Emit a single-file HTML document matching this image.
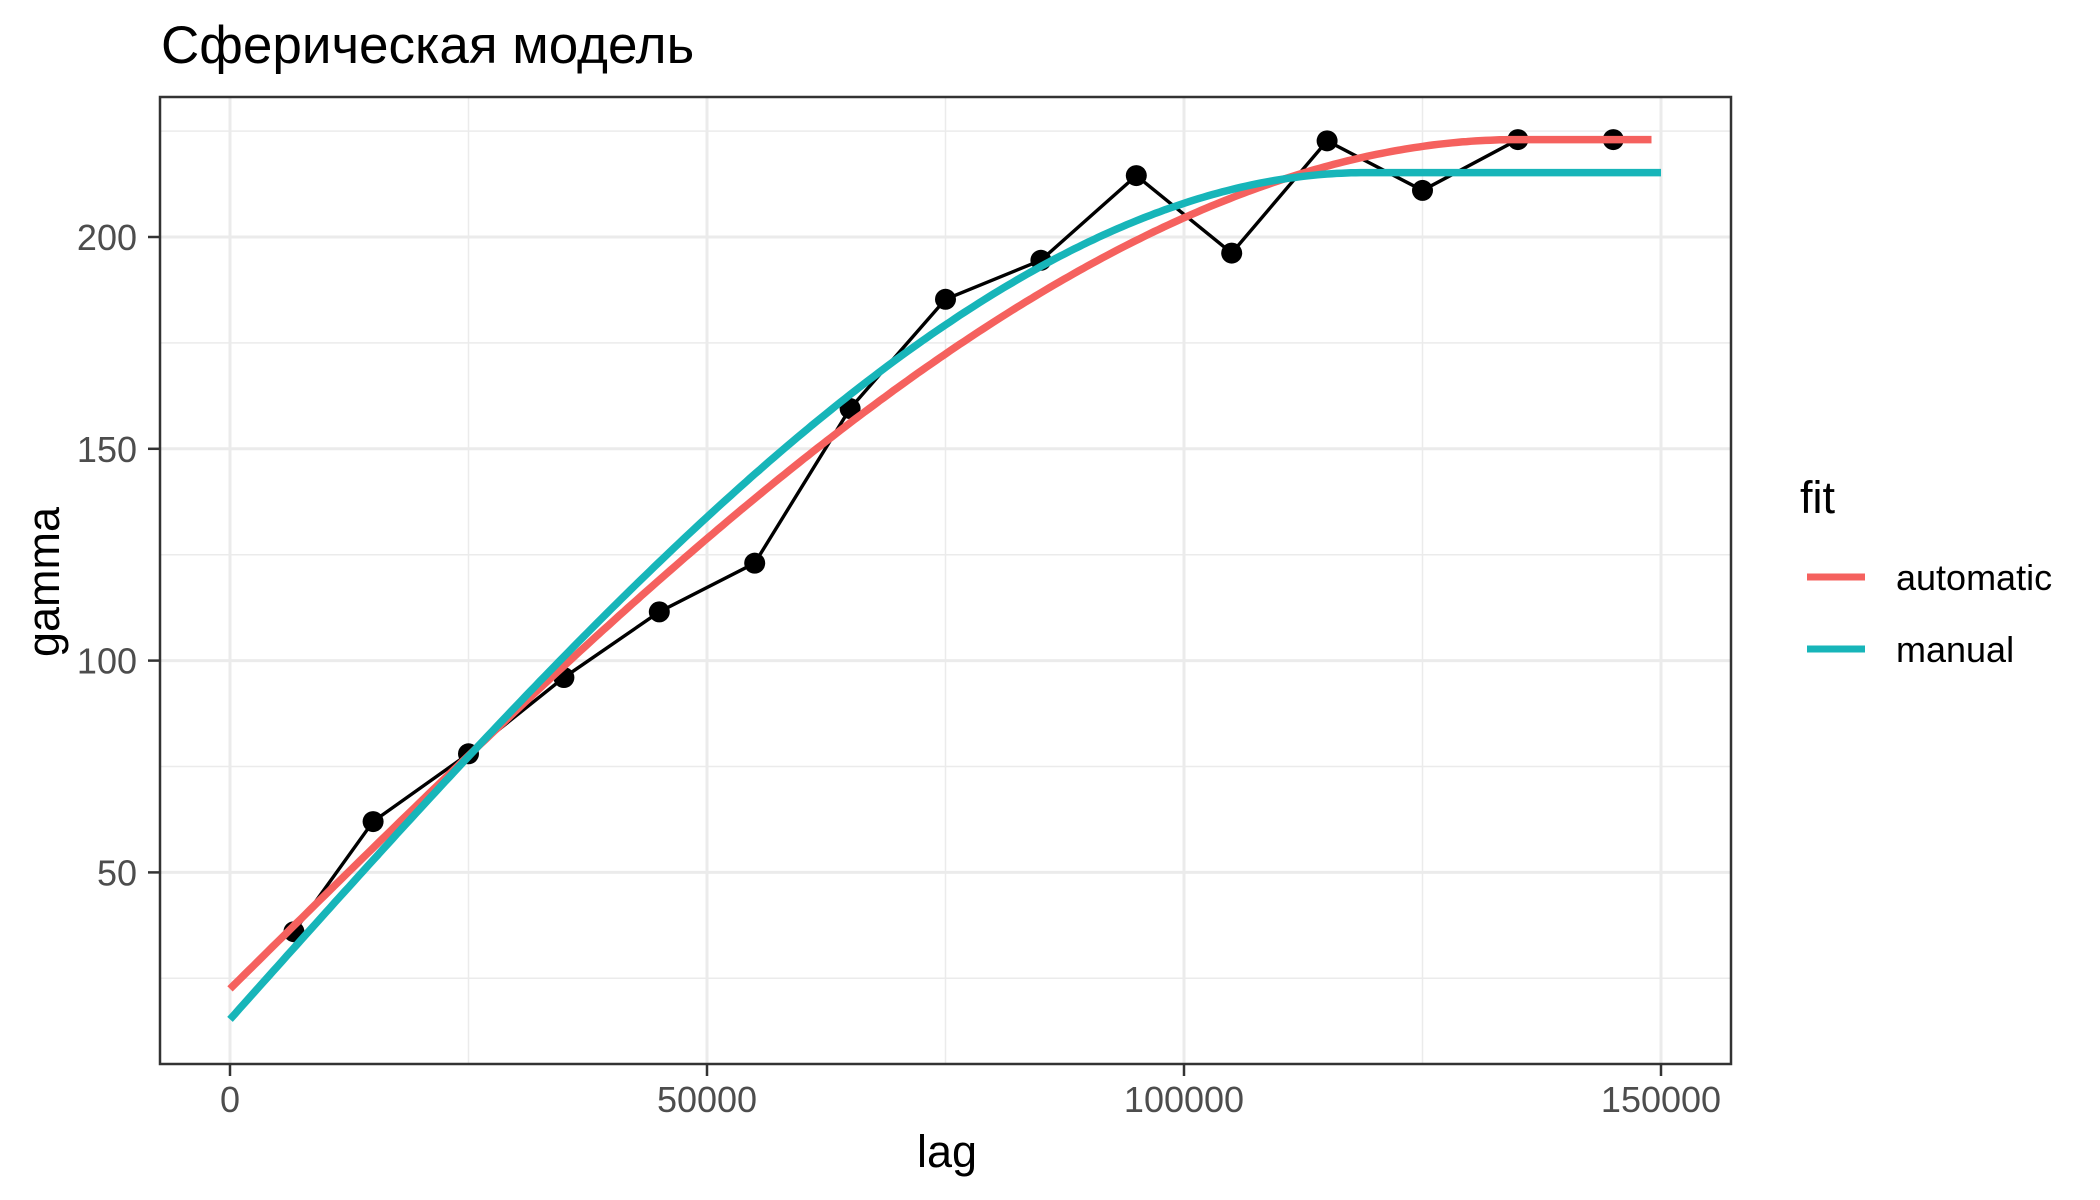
<!DOCTYPE html>
<html><head><meta charset="utf-8"><style>
html,body{margin:0;padding:0;background:#fff}
svg{display:block;font-family:"Liberation Sans","DejaVu Sans",sans-serif}
</style></head><body>
<svg id="chart" width="2100" height="1200" viewBox="0 0 2100 1200" xmlns="http://www.w3.org/2000/svg">
<rect x="0" y="0" width="2100" height="1200" fill="#fff"/>
<text x="161" y="63" font-size="53" fill="#000">Сферическая модель</text>
<g id="grid"></g>
<g id="obs"></g>
<g id="fits"></g>
<rect x="160" y="97" width="1571" height="967" fill="none" stroke="#333" stroke-width="2.5"/>
<g id="axes"></g>
<text x="947" y="1167" font-size="45" text-anchor="middle" fill="#000">lag</text>
<text transform="translate(59,582) rotate(-90)" font-size="45" text-anchor="middle" fill="#000">gamma</text>
<g>
<text x="1800" y="513" font-size="45" fill="#000">fit</text>
<line x1="1807" y1="577" x2="1865" y2="577" stroke="#F5615E" stroke-width="7"/>
<text x="1896" y="590" font-size="36" fill="#000">automatic</text>
<line x1="1807" y1="649" x2="1865" y2="649" stroke="#17B5B9" stroke-width="7"/>
<text x="1896" y="662" font-size="36" fill="#000">manual</text>
</g>
</svg>
<script>
const lags = [6700, 15000, 25000, 35000, 45000, 55000, 65000, 75000, 85000, 95000, 105000, 115000, 125000, 135000, 145000];
const gammas = [36, 62, 78, 96, 111.5, 123, 159.5, 185.3, 194.5, 214.5, 196.2, 222.7, 211, 223, 223];
const fitNames = ["automatic", "manual"];
const fitColors = ["#F5615E", "#17B5B9"];
const fitNuggets = [22.5, 15.3];
const fitSills = [223, 215.2];
const fitRanges = [135000, 119000];
const fitMaxLag = [149000, 150000];
const xTicks = [0, 50000, 100000, 150000];
const xMinor = [25000, 75000, 125000];
const yTicks = [50, 100, 150, 200];
const yMinor = [25, 75, 125, 175, 225];

const NS = "http://www.w3.org/2000/svg";
const X = v => 230 + v * 477 / 50000;
const Y = v => 237 + (200 - v) * 4.236;
const PL = 160, PR = 1731, PT = 97, PB = 1064;
function mk(tag, attrs, parent) {
  const e = document.createElementNS(NS, tag);
  for (const k in attrs) e.setAttribute(k, attrs[k]);
  parent.appendChild(e);
  return e;
}
const grid = document.getElementById("grid");
const axes = document.getElementById("axes");
yMinor.forEach(v => {
  const y = Y(v); if (y < PT || y > PB) return;
  const l = mk("line", {x1: PL, x2: PR, y1: y, y2: y, stroke: "#EBEBEB", "stroke-width": 1.5}, grid);
  
  
});
xMinor.forEach(v => {
  const x = X(v);
  const l = mk("line", {x1: x, x2: x, y1: PT, y2: PB, stroke: "#EBEBEB", "stroke-width": 1.5}, grid);
  
  
});
yTicks.forEach(v => {
  const y = Y(v);
  const l = mk("line", {x1: PL, x2: PR, y1: y, y2: y, stroke: "#EBEBEB", "stroke-width": 3}, grid);
  
  
  const t = mk("line", {x1: 148, x2: PL, y1: y, y2: y, stroke: "#333", "stroke-width": 2.5}, axes);
  
  
  const tx = mk("text", {x: 137, y: y + 13, "font-size": 36, "text-anchor": "end", fill: "#4D4D4D"}, axes);
  tx.textContent = String(v);
  
  
});
xTicks.forEach(v => {
  const x = X(v);
  const l = mk("line", {x1: x, x2: x, y1: PT, y2: PB, stroke: "#EBEBEB", "stroke-width": 3}, grid);
  
  
  const t = mk("line", {x1: x, x2: x, y1: PB, y2: PB + 12, stroke: "#333", "stroke-width": 2.5}, axes);
  
  
  const tx = mk("text", {x: x, y: 1112, "font-size": 36, "text-anchor": "middle", fill: "#4D4D4D"}, axes);
  tx.textContent = String(v);
  
  
});
// empirical variogram
const obs = document.getElementById("obs");
const line = mk("polyline", {points: lags.map((l, i) => X(l) + "," + Y(gammas[i])).join(" "), fill: "none", stroke: "#000", "stroke-width": 3.4}, obs);


lags.forEach((l, i) => {
  const c = mk("circle", {cx: X(l), cy: Y(gammas[i]), r: 10.5, fill: "#000"}, obs);
  
  
});
// fitted spherical models
const fits = document.getElementById("fits");
fitNames.forEach((n, i) => {
  const pts = [];
  for (let k = 0; k <= 300; k++) {
    const h = fitMaxLag[i] * k / 300;
    const r = Math.min(h / fitRanges[i], 1);
    const g = fitNuggets[i] + (fitSills[i] - fitNuggets[i]) * (1.5 * r - 0.5 * r * r * r);
    pts.push(X(h).toFixed(1) + "," + Y(g).toFixed(1));
  }
  const p = mk("polyline", {points: pts.join(" "), fill: "none", stroke: fitColors[i], "stroke-width": 7.5}, fits);
  
  
});
</script>
</body></html>
